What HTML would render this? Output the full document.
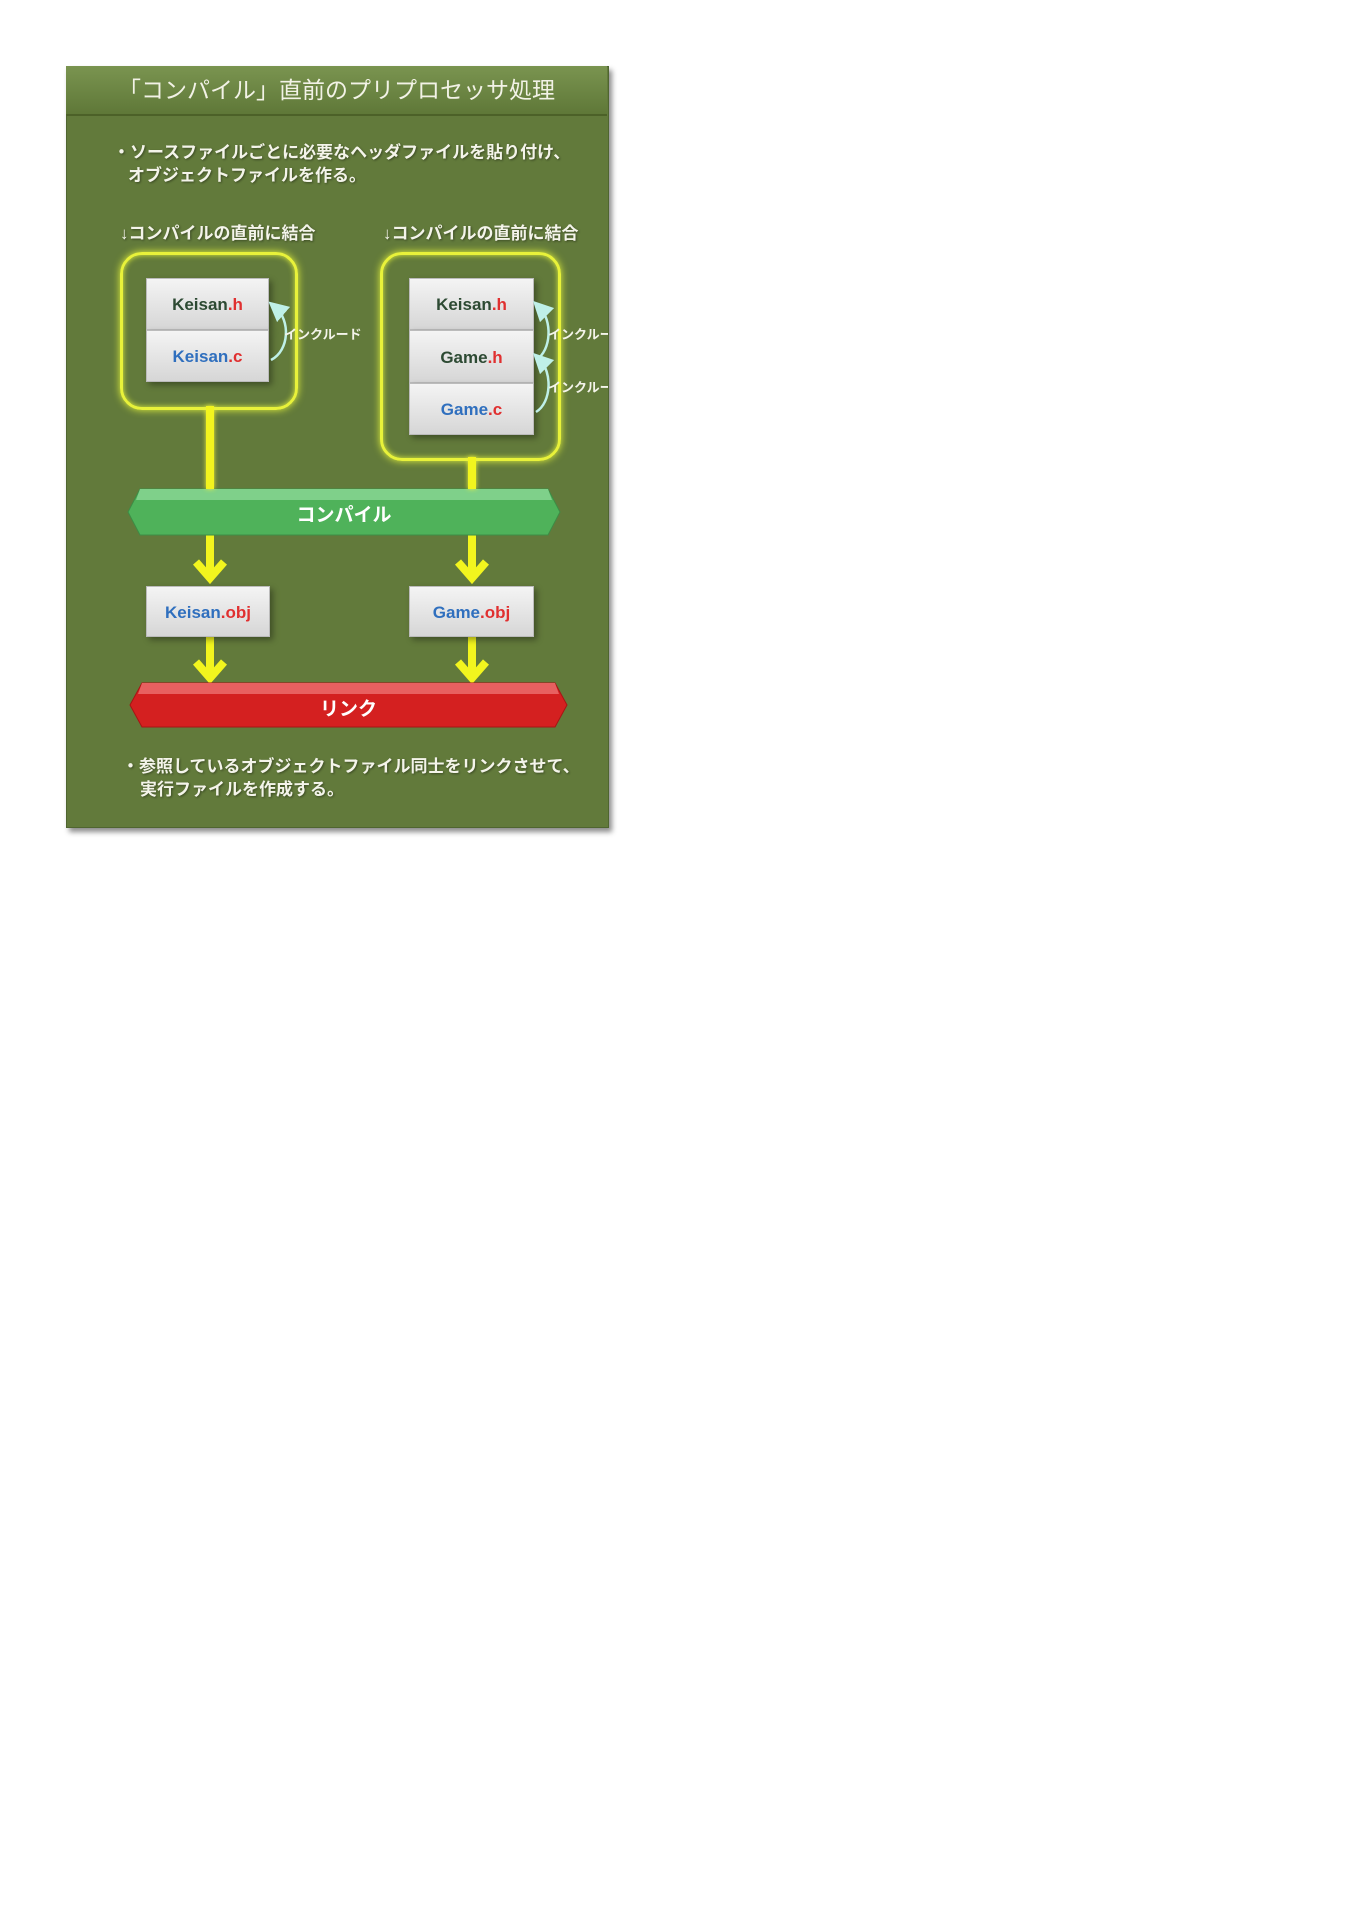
<!DOCTYPE html>
<html><head><meta charset="utf-8"><style>
body{margin:0;width:1363px;height:1920px;background:#fff;position:relative;overflow:hidden;font-family:"Liberation Sans","Noto Sans CJK JP",sans-serif;}
.a{position:absolute}
.panel{left:66px;top:66px;width:541px;height:760px;background:#627a3b;box-shadow:3px 4px 5px rgba(0,0,0,.45);border:1px solid #4f6530}
.title{left:66px;top:66px;width:541px;height:48px;background:linear-gradient(#7a9450,#5f7838);border-bottom:2px solid #4c6128;color:#f2f2e6;font-size:23px;text-align:center;line-height:48px}
.t{color:#f4f4ea;font-size:17px;font-weight:bold;text-shadow:1px 1px 2px rgba(0,0,0,.4);white-space:nowrap}
.ybox{border:3px solid #e8f23a;border-radius:22px;box-shadow:0 0 8px #e6f53a,inset 0 0 6px #dff03a}
.f{background:linear-gradient(#f4f4f4,#d6d6d6);border:1px solid #bbb;box-sizing:border-box;text-align:center;font-weight:bold;font-size:17px;box-shadow:3px 3px 6px rgba(0,0,0,.35)}
.g{color:#2d4a33}.b{color:#2f6fbe}.r{color:#e03030}
.vl{width:8px;background:#f2f51e;box-shadow:0 0 5px #eef23a}
.bar{color:#fff;font-weight:bold;font-size:19px;text-align:center}
.inc{color:#f4f4ea;font-size:13px;font-weight:bold}
</style></head><body>
<div class="a panel"></div>
<div class="a title">「コンパイル」直前のプリプロセッサ処理</div>
<div class="a t" style="left:113px;top:138px">・ソースファイルごとに必要なヘッダファイルを貼り付け、</div>
<div class="a t" style="left:128px;top:161px">オブジェクトファイルを作る。</div>
<div class="a t" style="left:120px;top:219px">↓コンパイルの直前に結合</div>
<div class="a t" style="left:383px;top:219px">↓コンパイルの直前に結合</div>

<div class="a ybox" style="left:120px;top:252px;width:172px;height:152px"></div>
<div class="a ybox" style="left:380px;top:252px;width:175px;height:203px"></div>

<div class="a f" style="left:146px;top:278px;width:123px;height:52px;line-height:52px"><span class="g">Keisan</span><span class="r">.h</span></div>
<div class="a f" style="left:146px;top:330px;width:123px;height:52px;line-height:52px"><span class="b">Keisan</span><span class="r">.c</span></div>
<div class="a f" style="left:409px;top:278px;width:125px;height:52px;line-height:52px"><span class="g">Keisan</span><span class="r">.h</span></div>
<div class="a f" style="left:409px;top:330px;width:125px;height:53px;line-height:53px"><span class="g">Game</span><span class="r">.h</span></div>
<div class="a f" style="left:409px;top:383px;width:125px;height:52px;line-height:52px"><span class="b">Game</span><span class="r">.c</span></div>

<svg class="a" style="left:0;top:0" width="640" height="840">
<defs><marker id="m" markerWidth="8" markerHeight="8" refX="4" refY="4" orient="auto"><path d="M0,0 L8,4 L0,8z" fill="#bff0e8"/></marker></defs>
<g fill="none" stroke="#bff0e8" stroke-width="2.5">
<path d="M271,360 C290,350 290,320 276,308" marker-end="url(#m)"/>
<path d="M536,360 C552,350 552,320 540,308" marker-end="url(#m)"/>
<path d="M536,412 C552,402 552,372 540,360" marker-end="url(#m)"/>
</g>
<g stroke="#f2f51e" stroke-width="8" fill="none" stroke-linejoin="miter">
<path d="M210,535 V578 M196,562 L210,578 L224,562"/>
<path d="M472,535 V578 M458,562 L472,578 L486,562"/>
<path d="M210,637 V678 M196,662 L210,678 L224,662"/>
<path d="M472,637 V678 M458,662 L472,678 L486,662"/>
</g>
<polygon points="140,489 548,489 560,512 548,535 140,535 128,512" fill="#4fb25a" stroke="#3c8d45"/>
<polygon points="140,489 548,489 552,500 136,500" fill="#7fd08a"/>
<polygon points="142,683 555,683 567,705 555,727 142,727 130,705" fill="#d42020" stroke="#a81414"/>
<polygon points="142,683 555,683 559,694 138,694" fill="#e86060"/>
</svg>
<div class="a vl" style="left:206px;top:406px;height:83px"></div>
<div class="a vl" style="left:468px;top:457px;height:32px"></div>
<div class="a bar" style="left:128px;top:500px;width:432px">コンパイル</div>
<div class="a bar" style="left:130px;top:694px;width:437px">リンク</div>

<div class="a f" style="left:146px;top:586px;width:124px;height:51px;line-height:51px"><span class="b">Keisan</span><span class="r">.obj</span></div>
<div class="a f" style="left:409px;top:586px;width:125px;height:51px;line-height:51px"><span class="b">Game</span><span class="r">.obj</span></div>

<div class="a inc" style="left:284px;top:324px">インクルード</div>
<div class="a inc" style="left:548px;top:324px;width:60px;overflow:hidden;white-space:nowrap">インクルード</div>
<div class="a inc" style="left:548px;top:377px;width:60px;overflow:hidden;white-space:nowrap">インクルード</div>

<div class="a t" style="left:122px;top:752px">・参照しているオブジェクトファイル同士をリンクさせて、</div>
<div class="a t" style="left:140px;top:775px">実行ファイルを作成する。</div>
</body></html>
